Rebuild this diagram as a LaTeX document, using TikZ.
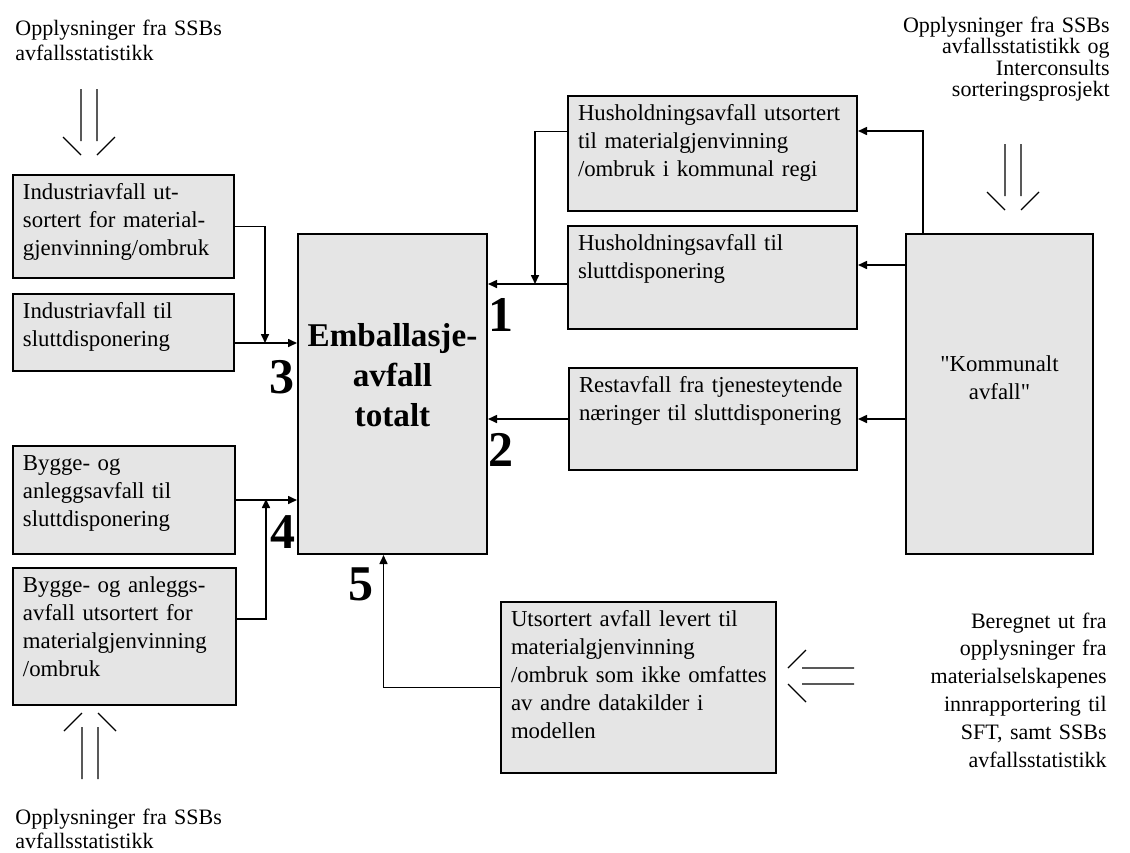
\documentclass[tikz,border=0pt]{standalone}
\usepackage{fontspec}
\setmainfont{Liberation Serif}
\newfontfamily\plainfont{Liberation Serif}
\usetikzlibrary{arrows.meta}
\definecolor{boxfill}{gray}{0.9}
\newcommand\boxfont{\fontsize{11.4}{14}\selectfont}

\begin{document}
\begin{tikzpicture}[x=0.5pt, y=-0.5pt,
      box/.style 2 args={draw, line width=1pt, fill=boxfill, anchor=north west,
                  inner xsep=5pt, inner ysep=3pt, text height=9pt,
                  text width=#1, text depth=#2, align=left, font=\boxfont},
      bigbox/.style={draw, line width=1pt, fill=boxfill, anchor=north west,
                  inner sep=0pt, align=center},
      note/.style={inner sep=0pt, text width=130pt},
      num/.style={inner sep=0pt, font=\fontsize{25}{25}\selectfont\bfseries},
      arr/.style={-{Triangle[length=4.5pt,width=4pt]}, line width=0.8pt},
      src/.style={line width=0.6pt},
      srcarrow/.pic={\draw[src] (-8,-14) -- (-8,-66) (8,-14) -- (8,-66)
                                (-26,-18) -- (-8,0) (26,-18) -- (8,0);}]
    \useasboundingbox (0,0) rectangle (1130,852);

    % left column
    \node[box={100.5pt}{36.5pt}] (indsort) at (12,174)
      {Industriavfall ut-\\sortert for material-\\gjenvinning/ombruk};
    \node[box={100.5pt}{23.5pt}] (indslutt) at (12,293)
      {Industriavfall til\\sluttdisponering};
    \node[box={101pt}{39pt}] (byggslutt) at (12,445)
      {Bygge- og\\anleggsavfall til\\sluttdisponering};
    \node[box={101.5pt}{53.5pt}] (byggsort) at (12,567)
      {Bygge- og anleggs-\\avfall utsortert for\\materialgjenvinning\\/ombruk};

    % centre
    \node[bigbox, text width=94.5pt, text height=56pt, text depth=104pt,
          font=\fontsize{16.6}{20}\selectfont\bfseries] (total) at (297,233)
      {Emballasje-\\avfall\\totalt};

    % right column
    \node[box={134.5pt}{42.5pt}] (hussort) at (567,95)
      {Husholdningsavfall utsortert\\til materialgjenvinning\\/ombruk i kommunal regi};
    \node[box={134.5pt}{36.5pt}] (husslutt) at (567,225)
      {Husholdningsavfall til\\sluttdisponering};
    \node[box={134pt}{36pt}] (rest) at (568,367)
      {Restavfall fra tjenesteytende\\næringer til sluttdisponering};
    \node[box={127.5pt}{70.5pt}] (utsort) at (500,601)
      {Utsortert avfall levert til\\materialgjenvinning\\\mbox{/ombruk som ikke omfattes}\\av andre datakilder i\\modellen};
    \node[bigbox, text width=93.5pt, text height=68.5pt, text depth=91.5pt,
          font=\boxfont\plainfont] (kommunalt) at (905,233)
      {"Kommunalt\\avfall"};

    % sources
    \node[note, align=left, anchor=base west, font=\fontsize{11}{12.5}\selectfont]
      (srcind) at (15,35) {Opplysninger fra SSBs\\avfallsstatistikk};
    \node[note, align=right, anchor=base east, font=\fontsize{11}{10.8}\selectfont]
      (srchus) at (1110,32)
      {Opplysninger fra SSBs\\avfallsstatistikk og\\Interconsults\\sorteringsprosjekt};
    \node[note, align=left, anchor=base west, font=\fontsize{11}{12}\selectfont]
      (srcbygg) at (15,824) {Opplysninger fra SSBs\\avfallsstatistikk};
    \node[note, align=right, anchor=base east, font=\fontsize{11}{13.9}\selectfont]
      (srcmat) at (1107,628)
      {Beregnet ut fra\\opplysninger fra\\materialselskapenes\\innrapportering til\\SFT, samt SSBs\\avfallsstatistikk};

    \pic at (89,155) {srcarrow};
    \pic at (1013,210) {srcarrow};
    \pic[rotate=180] at (90,713) {srcarrow};
    \pic[rotate=-90] at (788,676) {srcarrow};

    % numbers
    \node[num] (n1) at (501,315) {1};
    \node[num] (n2) at (501,450) {2};
    \node[num] (n3) at (282,377) {3};
    \node[num] (n4) at (283,532) {4};
    \node[num] (n5) at (361,584) {5};

    % connectors
    \coordinate (j1) at (535,284);
    \coordinate (j3) at (265,343);
    \coordinate (j4) at (266,499);
    \coordinate (kf) at ([yshift=11.25pt]hussort.east);
    \coordinate (kg) at ([yshift=6.25pt]husslutt.east);

    \draw[arr] (indsort.east) -| (j3);
    \draw[arr] (indslutt.east |- j3) -- (total.west |- j3);
    \draw[arr] (byggslutt.east) -- (total.west |- byggslutt.east);
    \draw[arr] ([yshift=8.75pt]byggsort.east) -| (j4);

    \draw[arr] ([yshift=11pt]hussort.west) -| (j1);
    \draw[arr] (husslutt.west |- j1) -- (total.east |- j1);
    \draw[arr] (rest.west) -- (total.east |- rest.west);
    \draw[arr] (utsort.west) -| ([xshift=-4.5pt]total.south);

    \draw[arr] ([xshift=-38.25pt]kommunalt.north) |- (kf);
    \draw[arr] (kommunalt.west |- kg) -- (kg);
    \draw[arr] (kommunalt.west |- rest.east) -- (rest.east);
  \end{tikzpicture}
\end{document}
